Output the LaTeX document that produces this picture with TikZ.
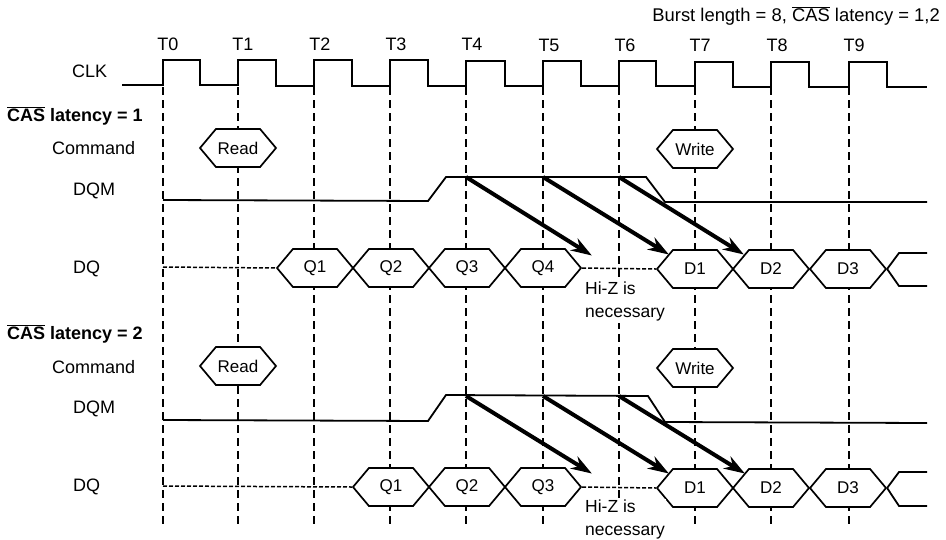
\documentclass[tikz,border=0pt]{standalone}
\usepackage{fontspec}
\setmainfont{Liberation Sans}
\usetikzlibrary{shapes.symbols,arrows.meta}
\tikzset{
  lbl/.style={inner sep=0pt,font=\fontsize{18}{20}\selectfont},
  ticklbl/.style={lbl,anchor=center},
  sig/.style={line width=1.8pt},
  tick/.style={line width=1.1pt,dash pattern=on 8pt off 5pt},
  hiz/.style={line width=1.5pt,dash pattern=on 4pt off 2pt},
  bigarrow/.style={line width=4pt,-{Stealth[length=21pt,width=14pt]},shorten >=-1pt},
  hexbox/.style={signal,signal to=east and west,signal pointer angle=100,draw,fill=white,
    line width=1.7pt,inner sep=0pt,minimum width=76pt,minimum height=38pt,
    label={[font=\fontsize{17}{20}\selectfont,inner sep=0pt]center:#1}}
}
\begin{document}
\begin{tikzpicture}
\begin{scope}[x=1pt,y=-1pt]
\useasboundingbox (0,0) rectangle (946,539);
% clock edges
\draw[tick] (163,87)--(163,527);
\draw[tick] (238,87)--(238,527);
\draw[tick] (314,87)--(314,527);
\draw[tick] (390,87)--(390,527);
\draw[tick] (466,87)--(466,527);
\draw[tick] (543,87)--(543,527);
\draw[tick] (619,87)--(619,527);
\draw[tick] (695,87)--(695,527);
\draw[tick] (771,87)--(771,527);
\draw[tick] (849,87)--(849,527);
\node[ticklbl] (t0) at (168,44) {T0};
\node[ticklbl] (t1) at (243,44) {T1};
\node[ticklbl] (t2) at (320,44) {T2};
\node[ticklbl] (t3) at (396,44) {T3};
\node[ticklbl] (t4) at (472,44) {T4};
\node[ticklbl] (t5) at (549,45) {T5};
\node[ticklbl] (t6) at (625,45) {T6};
\node[ticklbl] (t7) at (700,45) {T7};
\node[ticklbl] (t8) at (777,45) {T8};
\node[ticklbl] (t9) at (854,45) {T9};
\node[lbl,anchor=east,font=\fontsize{18.4}{20}\selectfont] (title) at (940,16) {Burst length = 8, $\overline{\mbox{CAS}}$ latency = 1,2};
\node[lbl,anchor=west] (clklbl) at (72,71) {CLK};
\draw[sig] (122,85)--(163,85)--(163,60)--(200,60)--(200,85)--(238,85)--(238,60)--(276,60)--(276,86)
  --(314,86)--(314,60)--(352,60)--(352,86)--(390,86)--(390,60)--(428,60)--(428,86)--(466,86)
  --(466,61)--(505,61)--(505,86)--(543,86)--(543,61)--(581,61)--(581,86)--(619,86)--(619,61)
  --(656,61)--(656,86)--(695,86)--(695,62)--(733,62)--(733,87)--(771,87)--(771,62)--(809,62)
  --(809,87)--(849,87)--(849,62)--(887,62)--(887,87)--(927,87);
% latency 1
\node[lbl,anchor=west,font=\fontsize{18}{20}\bfseries] (cas1) at (7,116) {$\overline{\mbox{CAS}}$ latency = 1};
\node[lbl,anchor=west] (cmd1) at (52,148) {Command};
\node[lbl,anchor=west] (dqm1) at (73,191) {DQM};
\node[lbl,anchor=west] (dq1) at (73,269) {DQ};
\node[hexbox=Read] (read1) at (238,148) {};
\node[hexbox=Write] (write1) at (695,149) {};
\draw[sig] (163,200)--(428,201)--(446,177)--(646,177)--(665,202)--(927,202);
\coordinate (start1) at (163,267);
\node[hexbox=Q1] (q11) at (315,268) {};
\node[hexbox=Q2] (q12) at (391,268) {};
\node[hexbox=Q3] (q13) at (467,268) {};
\node[hexbox=Q4] (q14) at (543,268) {};
\node[hexbox=D1] (d11) at (695,269) {};
\node[hexbox=D2] (d12) at (771,269) {};
\node[hexbox=D3] (d13) at (848,269) {};
\draw[hiz] (start1)--(q11.west);
\draw[hiz] (q14.east)--(d11.west);
\draw[sig] (d13.east)--(899,253)--(927,253);
\draw[sig] (d13.east)--(899,286)--(927,286);
\node[lbl,anchor=north west,fill=white,align=left,inner sep=1pt,font=\fontsize{17.5}{23}\selectfont] (hiz1) at (584,281) {Hi-Z is\\necessary};
\draw[bigarrow] (466,177)--(591,255);
\draw[bigarrow] (543,177)--(668,254);
\draw[bigarrow] (619,177)--(743,254);
% latency 2
\node[lbl,anchor=west,font=\fontsize{18}{20}\bfseries] (cas2) at (7,334) {$\overline{\mbox{CAS}}$ latency = 2};
\node[lbl,anchor=west] (cmd2) at (52,367) {Command};
\node[lbl,anchor=west] (dqm2) at (73,409) {DQM};
\node[lbl,anchor=west] (dq2) at (73,487) {DQ};
\node[hexbox=Read] (read2) at (238,366) {};
\node[hexbox=Write] (write2) at (695,368) {};
\draw[sig] (163,420)--(428,421)--(446,395)--(648,396)--(665,422)--(927,423);
\coordinate (start2) at (163,486);
\node[hexbox=Q1] (q21) at (391,487) {};
\node[hexbox=Q2] (q22) at (467,487) {};
\node[hexbox=Q3] (q23) at (543,487) {};
\node[hexbox=D1] (d21) at (695,488) {};
\node[hexbox=D2] (d22) at (771,488) {};
\node[hexbox=D3] (d23) at (848,488) {};
\draw[hiz] (start2)--(q21.west);
\draw[hiz] (q23.east)--(d21.west);
\draw[sig] (d23.east)--(899,472)--(927,472);
\draw[sig] (d23.east)--(899,506)--(927,506);
\node[lbl,anchor=north west,fill=white,align=left,inner sep=1pt,font=\fontsize{17.5}{23}\selectfont] (hiz2) at (584,499) {Hi-Z is\\necessary};
\draw[bigarrow] (466,396)--(591,473);
\draw[bigarrow] (543,396)--(668,473);
\draw[bigarrow] (619,396)--(744,473);
\end{scope}
\end{tikzpicture}
\end{document}
